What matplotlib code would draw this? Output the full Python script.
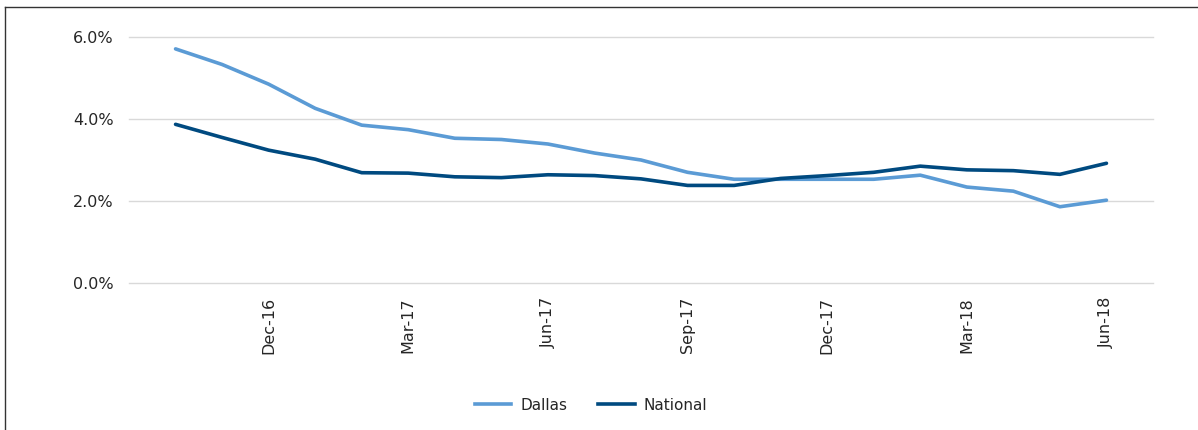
import matplotlib
matplotlib.use('Agg')
import matplotlib.pyplot as plt
from matplotlib.lines import Line2D
from matplotlib.ticker import FuncFormatter

# Datos mensuales Oct-16 .. Jun-18 (en %)
months = ['Oct-16', 'Nov-16', 'Dec-16', 'Jan-17', 'Feb-17', 'Mar-17', 'Apr-17',
          'May-17', 'Jun-17', 'Jul-17', 'Aug-17', 'Sep-17', 'Oct-17', 'Nov-17',
          'Dec-17', 'Jan-18', 'Feb-18', 'Mar-18', 'Apr-18', 'May-18', 'Jun-18']
dallas = [5.71, 5.33, 4.85, 4.26, 3.85, 3.74, 3.53, 3.50, 3.39, 3.17, 3.00,
          2.70, 2.53, 2.53, 2.53, 2.53, 2.63, 2.34, 2.24, 1.86, 2.02]
national = [3.87, 3.55, 3.24, 3.02, 2.69, 2.68, 2.59, 2.57, 2.64, 2.62, 2.54,
            2.38, 2.38, 2.55, 2.62, 2.70, 2.85, 2.76, 2.74, 2.65, 2.92]
yticks = [0, 2, 4, 6]

plt.rcParams['font.family'] = ['DejaVu Sans']
txt = '#262626'

fig = plt.figure(figsize=(11.98, 4.30), dpi=100)
ax = fig.add_axes([129 / 1198, 1 - 283 / 430, 1024 / 1198, 246 / 430])

x = list(range(len(months)))
ax.plot(x, dallas, color='#5B9BD5', lw=2.6, label='Dallas', solid_capstyle='round')
ax.plot(x, national, color='#004A80', lw=2.6, label='National', solid_capstyle='round')

ax.set_xlim(-1, len(months))
ax.set_ylim(0, 6)
ax.set_yticks(yticks)
ax.yaxis.set_major_formatter(FuncFormatter(lambda v, p: f'{v:.1f}%'))
ax.grid(axis='y', color='#D9D9D9', lw=1)
ax.set_axisbelow(True)
for g in ax.get_ygridlines():
    g.set_clip_on(False)

tick_idx = [i for i, m in enumerate(months) if m[:3] in ('Dec', 'Mar', 'Jun', 'Sep')]
ax.set_xticks(tick_idx)
ax.set_xticklabels([months[i] for i in tick_idx], rotation=90, va='top', ha='center')

ax.tick_params(axis='both', length=0, labelsize=11.5, colors=txt)
ax.tick_params(axis='y', pad=11)
ax.tick_params(axis='x', pad=10)
for s in ax.spines.values():
    s.set_visible(False)

handles = [Line2D([], [], color='#5B9BD5', lw=2.6), Line2D([], [], color='#004A80', lw=2.6)]
fig.legend(handles, ['Dallas', 'National'], loc='center', bbox_to_anchor=(591 / 1198, 1 - 405 / 430),
           ncol=2, frameon=False, fontsize=11, handlelength=2.4, columnspacing=2.0,
           handletextpad=0.6, labelcolor=txt)

# marco parcial (borde superior e izquierdo)
fig.add_artist(Line2D([5 / 1198, 5 / 1198], [0, 1 - 7 / 430], transform=fig.transFigure, color='#333333', lw=1))
fig.add_artist(Line2D([5 / 1198, 1], [1 - 7 / 430, 1 - 7 / 430], transform=fig.transFigure, color='#333333', lw=1))

fig.savefig('out.png', dpi=100)
